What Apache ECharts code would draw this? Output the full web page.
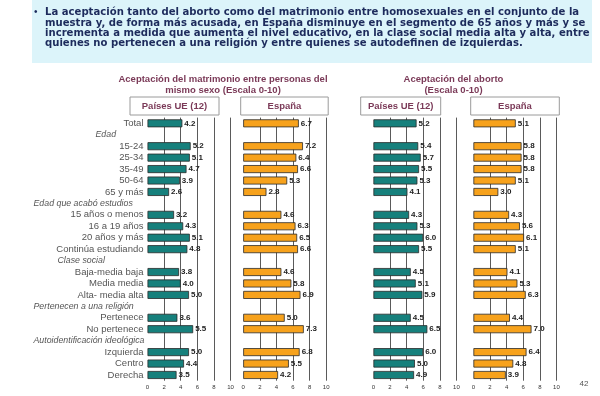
<!DOCTYPE html>
<html>
<head>
<meta charset="utf-8">
<script src="https://cdn.jsdelivr.net/npm/echarts@6/dist/echarts.min.js"></script>
<style>
  html, body { margin: 0; background: #fff; }
  #chart { width: 600px; height: 396px; }
</style>
</head>
<body>
<div id="chart"></div>
<script>
// row labels, top to bottom (section headings have no bar)
const categories = [
  'Total', 'Edad', '15-24', '25-34', '35-49', '50-64', '65 y más',
  'Edad que acabó estudios', '15 años o menos', '16 a 19 años', '20 años y más', 'Continúa estudiando',
  'Clase social', 'Baja-media baja', 'Media media', 'Alta- media alta',
  'Pertenecen a una religión', 'Pertenece', 'No pertenece',
  'Autoidentificación ideológica', 'Izquierda', 'Centro', 'Derecha'
]
const sectionRows = ['Edad', 'Edad que acabó estudios', 'Clase social', 'Pertenecen a una religión', 'Autoidentificación ideológica']

const marriageEU = [4.2, null, 5.2, 5.1, 4.7, 3.9, 2.6, null, 3.2, 4.3, 5.1, 4.8, null, 3.8, 4.0, 5.0, null, 3.6, 5.5, null, 5.0, 4.4, 3.5]
const marriageES = [6.7, null, 7.2, 6.4, 6.6, 5.3, 2.8, null, 4.6, 6.3, 6.5, 6.6, null, 4.6, 5.8, 6.9, null, 5.0, 7.3, null, 6.8, 5.5, 4.2]
const abortionEU = [5.2, null, 5.4, 5.7, 5.5, 5.3, 4.1, null, 4.3, 5.3, 6.0, 5.5, null, 4.5, 5.1, 5.9, null, 4.5, 6.5, null, 6.0, 5.0, 4.9]
const abortionES = [5.1, null, 5.8, 5.8, 5.8, 5.1, 3.0, null, 4.3, 5.6, 6.1, 5.1, null, 4.1, 5.3, 6.3, null, 4.4, 7.0, null, 6.4, 4.8, 3.9]

const panelTitles = ['Aceptación del matrimonio entre personas del\nmismo sexo (Escala 0-10)', 'Aceptación del aborto\n(Escala 0-10)']
const panelHeaders = ['Países UE (12)', 'España', 'Países UE (12)', 'España']

const introLines = [
  'La aceptación tanto del aborto como del matrimonio entre homosexuales en el conjunto de la',
  'muestra y, de forma más acusada, en España disminuye en el segmento de 65 años y más y se',
  'incrementa a medida que aumenta el nivel educativo, en la clase social media alta y alta, entre',
  'quienes no pertenecen a una religión y entre quienes se autodefinen de izquierdas.'
]

const TEAL = '#16807c'
const ORANGE = '#f7a21c'
const TITLE_COLOR = '#7b3a58'
const FONT = '"Liberation Sans", Arial, sans-serif'

const panels = [
  { left: 147.5, data: marriageEU, color: TEAL },
  { left: 243.2, data: marriageES, color: ORANGE },
  { left: 373.4, data: abortionEU, color: TEAL },
  { left: 473.4, data: abortionES, color: ORANGE }
]

// how far left each section heading starts (width of its label box)
const sectionRich = {
  'Edad': 'secShort',
  'Clase social': 'secMid'
}

const sectionStyle = { fontStyle: 'italic', fontSize: 8.8, color: '#555', fontFamily: FONT, align: 'left' }

const grids = panels.map(p => ({ left: p.left, top: 117.6, width: 83, height: 263.1 }))

const xAxes = panels.map((p, i) => ({
  type: 'value',
  gridIndex: i,
  min: 0,
  max: 10,
  interval: 2,
  axisLine: { show: false },
  axisTick: { show: false },
  axisLabel: { fontSize: 6, color: '#333', margin: 4, fontFamily: FONT },
  splitLine: {
    show: true,
    lineStyle: { color: ['rgba(0,0,0,0)', '#5a5a5a', '#5a5a5a', '#5a5a5a', '#5a5a5a', '#5a5a5a'], width: 1 }
  }
}))

const yAxes = panels.map((p, i) => ({
  type: 'category',
  gridIndex: i,
  data: categories,
  inverse: true,
  axisLine: { show: false },
  axisTick: { show: false },
  axisLabel: {
    show: i === 0,
    interval: 0,
    margin: 4,
    fontSize: 9.5,
    color: '#555',
    fontFamily: FONT,
    formatter: (v) => sectionRows.includes(v) ? `{${sectionRich[v] || 'sec'}|${v}}` : v,
    rich: {
      sec: Object.assign({ width: 110 }, sectionStyle),
      secShort: Object.assign({ width: 48 }, sectionStyle),
      secMid: Object.assign({ width: 86 }, sectionStyle)
    }
  },
  splitLine: { show: false }
}))

const series = panels.map((p, i) => ({
  type: 'bar',
  xAxisIndex: i,
  yAxisIndex: i,
  data: p.data,
  barWidth: 8,
  itemStyle: { color: p.color, borderColor: '#2a2a2a', borderWidth: 0.8 },
  label: {
    show: true,
    position: 'right',
    distance: 2,
    fontSize: 8,
    fontWeight: 'bold',
    color: '#222',
    fontFamily: FONT,
    formatter: (d) => d.value == null ? '' : d.value.toFixed(1)
  },
  silent: true
}))

const headerBoxes = [
  { x: 130, w: 89 },
  { x: 240.7, w: 87.5 },
  { x: 360.7, w: 80 },
  { x: 470.7, w: 88.6 }
]

const graphic = [
  { type: 'rect', shape: { x: 32, y: 0, width: 560, height: 63 }, style: { fill: '#dcf4fa' }, z: -1 },
  { type: 'text', x: 34, y: 12.7, style: { text: '•', fontSize: 10, fill: '#1d2b5c', textVerticalAlign: 'middle', fontFamily: FONT } },
  ...introLines.map((line, k) => ({
    type: 'text',
    x: 45,
    y: 12.7 + k * 10.3,
    style: {
      text: line,
      fontSize: 10.1,
      fontWeight: 'bold',
      fill: '#1d2b5c',
      fontFamily: '"DejaVu Sans", sans-serif',
      textVerticalAlign: 'middle'
    }
  })),
  ...panelTitles.map((t, k) => ({
    type: 'text',
    x: k === 0 ? 223 : 453.5,
    y: 84.5,
    style: {
      text: t,
      fontSize: 9.5,
      fontWeight: 'bold',
      fill: TITLE_COLOR,
      fontFamily: FONT,
      textAlign: 'center',
      textVerticalAlign: 'middle',
      lineHeight: 11
    }
  })),
  ...headerBoxes.map((b, k) => ({
    type: 'group',
    children: [
      { type: 'rect', shape: { x: b.x, y: 97, width: b.w, height: 18 }, style: { fill: '#fff', stroke: '#9a9a9a', lineWidth: 1 } },
      {
        type: 'text',
        x: b.x + b.w / 2,
        y: 106,
        style: {
          text: panelHeaders[k],
          fontSize: 9.5,
          fontWeight: 'bold',
          fill: TITLE_COLOR,
          fontFamily: FONT,
          textAlign: 'center',
          textVerticalAlign: 'middle'
        }
      }
    ]
  })),
  { type: 'text', x: 584, y: 384, style: { text: '42', fontSize: 8, fill: '#555', fontFamily: FONT, textAlign: 'center', textVerticalAlign: 'middle' } }
]

const chart = echarts.init(document.getElementById('chart'))
chart.setOption({
  animation: false,
  backgroundColor: '#fff',
  grid: grids,
  xAxis: xAxes,
  yAxis: yAxes,
  series,
  graphic
})
</script>
</body>
</html>
